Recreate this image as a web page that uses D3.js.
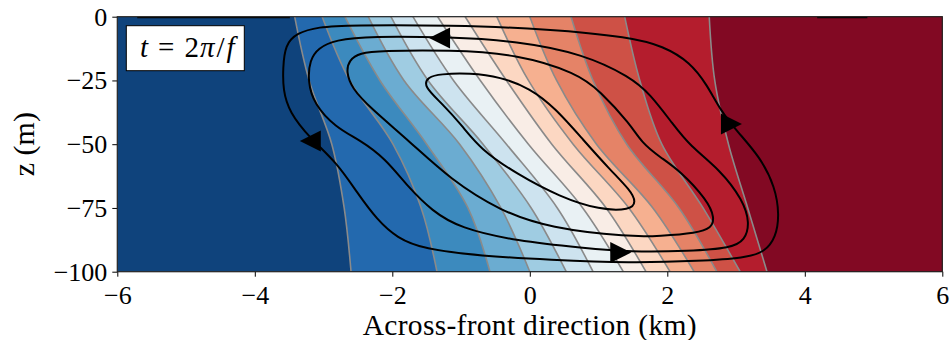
<!DOCTYPE html>
<html>
<head>
<meta charset="utf-8">
<script src="https://cdn.jsdelivr.net/npm/d3@7"></script>
<style>
  body { margin: 0; background: #fff; }
  svg text { font-family: "Liberation Serif", "DejaVu Serif", serif; fill: #000; }
</style>
</head>
<body>
<div id="vis"></div>
<script>
const FRAME_WIDTH = 950;
const FRAME_HEIGHT = 340;
const MARGINS = {left: 117.3, right: 7.7, top: 16.7, bottom: 68.3};
const VIS_WIDTH = FRAME_WIDTH - MARGINS.left - MARGINS.right;
const VIS_HEIGHT = FRAME_HEIGHT - MARGINS.top - MARGINS.bottom;

// tick values
const xTicks = [-6, -4, -2, 0, 2, 4, 6];
const zTicks = [0, -25, -50, -75, -100];

// depths at which the buoyancy contours were read
const zLevels = [0, -25, -50, -75, -100];

// across-front position (km) of each gray buoyancy contour at zLevels
const isoX = [
  [-3.42, -3.21, -2.88, -2.70, -2.60],
  [-3.02, -2.62, -1.99, -1.58, -1.35],
  [-2.69, -2.18, -1.50, -0.90, -0.58],
  [-2.35, -1.83, -1.02, -0.42, 0.00],
  [-2.02, -1.48, -0.68, 0.02, 0.53],
  [-1.70, -1.11, -0.34, 0.40, 0.92],
  [-1.34, -0.72, -0.02, 0.77, 1.36],
  [-0.94, -0.34, 0.32, 1.11, 1.69],
  [-0.48, -0.02, 0.63, 1.44, 2.04],
  [0.00, 0.39, 0.97, 1.79, 2.39],
  [0.60, 0.92, 1.41, 2.17, 2.72],
  [1.38, 1.60, 1.92, 2.52, 3.06],
  [2.61, 2.69, 2.89, 3.17, 3.45]
];

// RdBu_r colours of the 14 filled bands, left to right
const bandColors = ["#0f437c", "#2369ae", "#3c8abe", "#6bacd1", "#9fcce2", "#cde3ef", "#e9f1f4",
                    "#f9ede6", "#fcd7c2", "#f6b090", "#e58367", "#ce5146", "#b41d2d", "#820923"];

// streamfunction contours, [x (km), z (m)]
const psiOuter = [[-3.59,-20.1],[-3.56,-11.1],[-3.39,-6.4],[-3.08,-4.0],[-2.62,-3.3],[-1.16,-3.3],
  [0.29,-4.8],[1.46,-8.0],[1.94,-11.5],[2.33,-17.8],[2.58,-26.8],[2.77,-36.6],[3.01,-44.8],
  [3.35,-55.0],[3.57,-66.8],[3.63,-77.8],[3.58,-86.4],[3.42,-92.3],[3.13,-94.6],[2.48,-95.8],
  [1.46,-96.6],[0.29,-95.4],[-0.72,-93.8],[-1.55,-91.1],[-1.93,-86.8],[-2.22,-79.7],
  [-2.51,-69.1],[-2.80,-57.4],[-3.20,-47.6],[-3.50,-37.4],[-3.59,-28.7]];
const psiSecond = [[-3.23,-25.2],[-3.20,-17.0],[-3.08,-12.3],[-2.83,-9.1],[-2.32,-7.6],[-1.16,-8.0],
  [-0.19,-9.5],[0.78,-14.6],[1.46,-23.6],[1.75,-30.3],[2.08,-42.1],[2.33,-50.7],[2.77,-60.1],
  [3.10,-71.9],[3.20,-80.9],[3.13,-87.6],[2.93,-90.7],[2.33,-91.9],[1.46,-92.3],[0.78,-90.7],
  [-0.19,-88.0],[-1.02,-82.9],[-1.42,-76.2],[-1.77,-66.8],[-2.11,-55.4],[-2.47,-48.4],
  [-2.83,-43.3],[-3.14,-34.2]];
const psiThird = [[-2.67,-21.7],[-2.63,-17.0],[-2.47,-14.2],[-2.18,-13.4],[-1.16,-13.1],[-0.19,-14.6],
  [0.69,-22.1],[1.02,-29.1],[1.46,-42.1],[1.63,-49.5],[1.89,-55.0],[2.19,-60.5],[2.58,-71.9],
  [2.69,-78.9],[2.64,-82.9],[2.43,-84.8],[1.89,-86.0],[1.46,-86.4],[0.29,-82.9],[-0.43,-76.2],
  [-1.16,-63.7],[-1.74,-49.1],[-2.32,-35.8],[-2.59,-28.0]];
const psiInner = [[-1.55,-27.2],[-1.48,-23.6],[-1.31,-22.5],[-0.87,-22.1],[-0.43,-23.6],[0.00,-28.0],
  [0.37,-35.8],[0.78,-48.4],[1.17,-60.1],[1.46,-68.0],[1.55,-72.7],[1.46,-75.8],[1.02,-75.8],
  [0.44,-70.7],[-0.19,-61.7],[-0.72,-51.9],[-0.98,-42.9],[-1.27,-34.2]];
const psiLoops = [psiOuter, psiSecond, psiThird, psiInner];

// short psi contours hugging the surface
const surfaceX = [[-5.71, -3.49], [4.18, 4.91]];

// flow arrows: base centre x (km), z (m), direction (+1 right, -1 left)
const arrowX = [-3.04, -1.16, 1.17, 2.78];
const arrowZ = [-48.7, -8.4, -92.5, -42.1];
const arrowDir = [-1, -1, 1, 1];

const svg = d3.select("#vis")
  .append("svg")
    .attr("width", FRAME_WIDTH)
    .attr("height", FRAME_HEIGHT);

const X_SCALE = d3.scaleLinear().domain([-6, 6]).range([0, VIS_WIDTH]);
const Z_SCALE = d3.scaleLinear().domain([-100, 0]).range([VIS_HEIGHT, 0]);

svg.append("defs").append("clipPath").attr("id", "clip")
  .append("rect").attr("width", VIS_WIDTH).attr("height", VIS_HEIGHT);

const plot = svg.append("g")
  .attr("transform", "translate(" + MARGINS.left + "," + MARGINS.top + ")");
const field = plot.append("g").attr("clip-path", "url(#clip)");

// filled bands: fill the left band, then paint everything right of each contour
field.append("rect")
  .attr("width", VIS_WIDTH).attr("height", VIS_HEIGHT)
  .attr("fill", bandColors[0]);

const isoLine = d3.line()
  .x((d) => X_SCALE(d[0]))
  .y((d) => Z_SCALE(d[1]))
  .curve(d3.curveCatmullRom.alpha(0.5));

const isoPts = isoX.map((xs) => xs.map((x, i) => [x, zLevels[i]]));

field.selectAll(".band")
  .data(isoPts)
  .enter()
  .append("path")
    .attr("class", "band")
    .attr("d", (d) => isoLine(d) + "L" + (VIS_WIDTH + 5) + "," + (VIS_HEIGHT + 5) +
                      "L" + (VIS_WIDTH + 5) + ",-5Z")
    .attr("fill", (d, i) => bandColors[i + 1]);

field.selectAll(".iso")
  .data(isoPts)
  .enter()
  .append("path")
    .attr("class", "iso")
    .attr("d", isoLine)
    .attr("fill", "none")
    .attr("stroke", "#8a8a8a")
    .attr("stroke-width", 1.6);

// streamfunction
const psiLine = d3.line()
  .x((d) => X_SCALE(d[0]))
  .y((d) => Z_SCALE(d[1]))
  .curve(d3.curveBasisClosed);

field.selectAll(".psi")
  .data(psiLoops)
  .enter()
  .append("path")
    .attr("class", "psi")
    .attr("d", psiLine)
    .attr("fill", "none")
    .attr("stroke", "#000")
    .attr("stroke-width", 2);

field.selectAll(".surf")
  .data(surfaceX)
  .enter()
  .append("line")
    .attr("x1", (d) => X_SCALE(d[0]))
    .attr("x2", (d) => X_SCALE(d[1]))
    .attr("y1", Z_SCALE(-0.3))
    .attr("y2", Z_SCALE(-0.3))
    .attr("stroke", "#000")
    .attr("stroke-width", 1.8);

field.selectAll(".arrow")
  .data(arrowX)
  .enter()
  .append("path")
    .attr("class", "arrow")
    .attr("transform", (d, i) => "translate(" + X_SCALE(d) + "," + Z_SCALE(arrowZ[i]) + ")")
    .attr("d", (d, i) => "M0,-10.5L" + (21 * arrowDir[i]) + ",0L0,10.5Z")
    .attr("fill", "#000");

// axes
const xAxis = plot.append("g")
  .attr("transform", "translate(0," + VIS_HEIGHT + ")")
  .call(d3.axisBottom(X_SCALE).tickValues(xTicks).tickSize(5).tickPadding(9));
const zAxis = plot.append("g")
  .call(d3.axisLeft(Z_SCALE).tickValues(zTicks).tickSize(5).tickPadding(5));

[xAxis, zAxis].forEach((ax) => {
  ax.select(".domain").remove();
  ax.selectAll("text").style("font-size", "26px").attr("font-family", null);
  ax.selectAll("line").attr("stroke", "#000").attr("stroke-width", 1);
});

plot.append("rect")
  .attr("width", VIS_WIDTH).attr("height", VIS_HEIGHT)
  .attr("fill", "none").attr("stroke", "#222").attr("stroke-width", 1.2);

plot.append("text")
  .attr("x", VIS_WIDTH / 2)
  .attr("y", VIS_HEIGHT + 63)
  .attr("text-anchor", "middle")
  .style("font-size", "29.5px")
  .style("letter-spacing", "0.3px")
  .text("Across-front direction (km)");

plot.append("text")
  .attr("transform", "translate(-83," + (VIS_HEIGHT / 2) + ") rotate(-90)")
  .attr("text-anchor", "middle")
  .style("font-size", "30px")
  .text("z (m)");

// time label
const tag = plot.append("g").attr("transform", "translate(9,9)");
tag.append("rect")
  .attr("width", 118).attr("height", 45)
  .attr("fill", "#fff").attr("stroke", "#000").attr("stroke-width", 1);
const tagText = tag.append("text")
  .attr("x", 61).attr("y", 31)
  .attr("text-anchor", "middle")
  .style("font-size", "29px");
tagText.append("tspan").style("font-style", "italic").text("t");
tagText.append("tspan").attr("dx", 10).text("=");
tagText.append("tspan").attr("dx", 10).text("2");
tagText.append("tspan").style("font-style", "italic").attr("dx", 1).text("π");
tagText.append("tspan").attr("dx", 2).text("/");
tagText.append("tspan").style("font-style", "italic").attr("dx", 2).text("f");
</script>
</body>
</html>
